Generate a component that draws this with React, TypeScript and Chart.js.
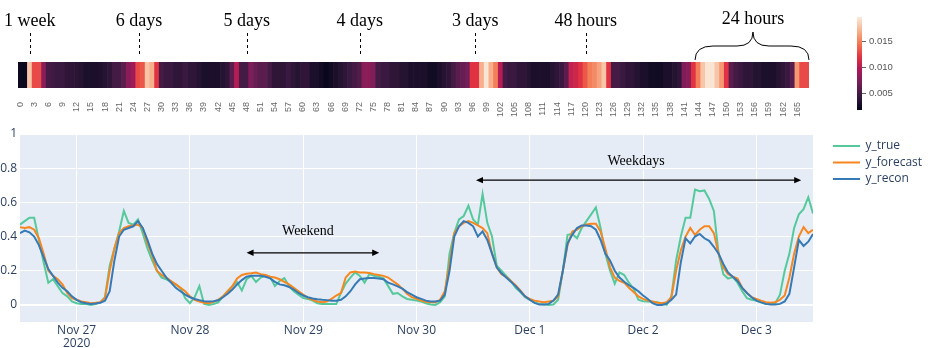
import React, { useEffect, useRef } from 'react';
import { Chart, registerables } from 'chart.js';
Chart.register(...registerables);

// ---------------- Heatmap (lag importance) ----------------
const LAG_LABELS: string[] = Array.from({ length: 168 }, (_, i) => String(i));
const LAG_TICK_STEP = 3;
const HEAT_VALUES: number[] = [
  0.0022, 0.0022, 0.018, 0.013, 0.013, 0.008, 0.005, 0.0048, 0.0045, 0.0045,
  0.004, 0.004, 0.0038, 0.0035, 0.003, 0.003, 0.003, 0.0032, 0.0035, 0.004,
  0.005, 0.005, 0.006, 0.008, 0.009, 0.013, 0.0135, 0.018, 0.017, 0.012,
  0.005, 0.0045, 0.0045, 0.004, 0.004, 0.0045, 0.004, 0.004, 0.0035, 0.003,
  0.003, 0.003, 0.003, 0.0035, 0.004, 0.006, 0.010, 0.005, 0.005, 0.0075,
  0.0065, 0.006, 0.006, 0.005, 0.004, 0.004, 0.004, 0.0045, 0.004, 0.0035,
  0.004, 0.004, 0.003, 0.003, 0.0025, 0.002, 0.0025, 0.003, 0.0035, 0.004,
  0.0045, 0.005, 0.0055, 0.008, 0.008, 0.0075, 0.005, 0.0045, 0.0045, 0.004,
  0.004, 0.0035, 0.0035, 0.003, 0.003, 0.003, 0.003, 0.0025, 0.0025, 0.003,
  0.0035, 0.004, 0.005, 0.006, 0.0065, 0.007, 0.012, 0.012, 0.017, 0.0195,
  0.017, 0.015, 0.010, 0.005, 0.0045, 0.0045, 0.004, 0.004, 0.0035, 0.003,
  0.003, 0.003, 0.003, 0.0035, 0.004, 0.0045, 0.006, 0.0105, 0.011, 0.012,
  0.0135, 0.015, 0.0155, 0.0165, 0.018, 0.012, 0.005, 0.005, 0.0045, 0.004,
  0.004, 0.0035, 0.003, 0.003, 0.0025, 0.0025, 0.0025, 0.003, 0.003, 0.0035,
  0.004, 0.0075, 0.008, 0.012, 0.015, 0.018, 0.0195, 0.0195, 0.018, 0.016,
  0.012, 0.006, 0.005, 0.0045, 0.004, 0.004, 0.0035, 0.0035, 0.003, 0.003,
  0.003, 0.0035, 0.004, 0.0045, 0.006, 0.016, 0.013, 0.013,
];
const COLOR_MIN = 0.00175;
const COLOR_MAX = 0.0198;
const COLORBAR_TICKS = [0.005, 0.01, 0.015];
const ROCKET: [number, string][] = [
  [0, '#03051A'], [0.143, '#35193E'], [0.286, '#701F57'], [0.429, '#AD1759'],
  [0.571, '#E13342'], [0.714, '#F37651'], [0.857, '#F6B48F'], [1, '#FAEBDD'],
];
const LAG_MARKS = [
  { label: '1 week', pos: 2.5 },
  { label: '6 days', pos: 25.7 },
  { label: '5 days', pos: 48.6 },
  { label: '4 days', pos: 72.6 },
  { label: '3 days', pos: 97.1 },
  { label: '48 hours', pos: 120.6 },
];
const BRACE = { label: '24 hours', from: 143.8, to: 168, mid: 156.1 };

// ---------------- Time series ----------------
const HOURS: number[] = Array.from({ length: 169 }, (_, i) => i);
const Y_TRUE: number[] = [
  0.47, 0.49, 0.51, 0.51, 0.38, 0.25, 0.13, 0.15, 0.11, 0.07,
  0.05, 0.02, 0.01, 0.005, 0.005, 0.0, 0.005, 0.015, 0.045, 0.23,
  0.33, 0.43, 0.55, 0.48, 0.47, 0.50, 0.42, 0.33, 0.26, 0.20,
  0.16, 0.15, 0.135, 0.12, 0.10, 0.04, 0.01, 0.045, 0.11, 0.006,
  0.0, 0.005, 0.014, 0.05, 0.08, 0.11, 0.134, 0.085, 0.15, 0.17,
  0.134, 0.16, 0.173, 0.163, 0.11, 0.14, 0.157, 0.11, 0.08, 0.06,
  0.04, 0.035, 0.025, 0.01, 0.006, 0.005, 0.005, 0.005, 0.07, 0.125,
  0.16, 0.19, 0.17, 0.13, 0.18, 0.17, 0.165, 0.155, 0.11, 0.065,
  0.07, 0.05, 0.035, 0.03, 0.025, 0.02, 0.01, 0.003, 0.0, 0.016,
  0.05, 0.3, 0.42, 0.5, 0.52, 0.58, 0.5, 0.47, 0.65, 0.48,
  0.4, 0.23, 0.2, 0.17, 0.14, 0.1, 0.075, 0.045, 0.03, 0.015,
  0.006, 0.002, 0.0, 0.002, 0.03, 0.2, 0.41, 0.415, 0.39, 0.45,
  0.49, 0.53, 0.57, 0.45, 0.3, 0.2, 0.124, 0.19, 0.175, 0.13,
  0.095, 0.03, 0.022, 0.02, 0.018, 0.016, 0.008, 0.0, 0.05, 0.26,
  0.4, 0.51, 0.51, 0.675, 0.665, 0.67, 0.62, 0.55, 0.3, 0.18,
  0.154, 0.163, 0.13, 0.08, 0.04, 0.03, 0.025, 0.015, 0.006, 0.006,
  0.01, 0.06, 0.2, 0.3, 0.45, 0.53, 0.56, 0.63, 0.535,
];
const Y_FORECAST: number[] = [
  0.455, 0.45, 0.455, 0.44, 0.39, 0.3, 0.2, 0.17, 0.15, 0.12,
  0.07, 0.04, 0.03, 0.02, 0.015, 0.01, 0.012, 0.016, 0.04, 0.2,
  0.33, 0.42, 0.45, 0.46, 0.465, 0.47, 0.45, 0.36, 0.29, 0.2,
  0.175, 0.16, 0.14, 0.12, 0.1, 0.08, 0.05, 0.03, 0.02, 0.012,
  0.01, 0.018, 0.03, 0.05, 0.08, 0.11, 0.155, 0.175, 0.182, 0.185,
  0.19, 0.18, 0.175, 0.165, 0.16, 0.15, 0.135, 0.12, 0.1, 0.08,
  0.06, 0.04, 0.03, 0.02, 0.016, 0.02, 0.035, 0.055, 0.07, 0.16,
  0.19, 0.195, 0.19, 0.19, 0.187, 0.18, 0.175, 0.17, 0.16, 0.14,
  0.12, 0.095, 0.065, 0.045, 0.035, 0.025, 0.018, 0.016, 0.016, 0.03,
  0.08, 0.24, 0.42, 0.46, 0.48, 0.49, 0.48, 0.465, 0.45, 0.42,
  0.3, 0.22, 0.18, 0.165, 0.14, 0.115, 0.085, 0.05, 0.035, 0.025,
  0.02, 0.016, 0.02, 0.025, 0.05, 0.2, 0.35, 0.43, 0.44, 0.46,
  0.47, 0.475, 0.475, 0.43, 0.33, 0.22, 0.16, 0.14, 0.13, 0.1,
  0.075, 0.05, 0.035, 0.025, 0.02, 0.013, 0.01, 0.016, 0.045, 0.2,
  0.32, 0.4, 0.45, 0.41, 0.44, 0.46, 0.46, 0.42, 0.3, 0.22,
  0.18, 0.165, 0.154, 0.1, 0.07, 0.045, 0.035, 0.025, 0.016, 0.012,
  0.015, 0.03, 0.055, 0.16, 0.3, 0.4, 0.455, 0.42, 0.44,
];
const Y_RECON: number[] = [
  0.42, 0.435, 0.425, 0.4, 0.35, 0.28, 0.21, 0.17, 0.13, 0.1,
  0.08, 0.05, 0.03, 0.015, 0.01, 0.006, 0.008, 0.012, 0.025, 0.08,
  0.26, 0.4, 0.44, 0.45, 0.46, 0.49, 0.45, 0.38, 0.3, 0.24,
  0.2, 0.16, 0.13, 0.1, 0.08, 0.06, 0.045, 0.035, 0.028, 0.022,
  0.02, 0.022, 0.027, 0.045, 0.065, 0.09, 0.12, 0.145, 0.165, 0.17,
  0.17, 0.17, 0.165, 0.155, 0.135, 0.12, 0.115, 0.105, 0.09, 0.07,
  0.055, 0.045, 0.038, 0.033, 0.03, 0.028, 0.025, 0.025, 0.03, 0.05,
  0.08, 0.12, 0.15, 0.155, 0.157, 0.157, 0.155, 0.15, 0.13, 0.12,
  0.108, 0.095, 0.075, 0.06, 0.045, 0.035, 0.025, 0.02, 0.02, 0.025,
  0.06, 0.2, 0.4, 0.46, 0.49, 0.48, 0.46, 0.4, 0.43, 0.38,
  0.3, 0.22, 0.185, 0.16, 0.135, 0.11, 0.08, 0.05, 0.03, 0.012,
  0.002, 0.002, 0.006, 0.025, 0.06, 0.2, 0.36, 0.41, 0.45, 0.465,
  0.465, 0.46, 0.44, 0.38, 0.3, 0.26, 0.2, 0.16, 0.135, 0.115,
  0.1, 0.08, 0.055, 0.035, 0.01, 0.0, 0.0, 0.008, 0.03, 0.06,
  0.25, 0.39, 0.36, 0.4, 0.415, 0.39, 0.375, 0.34, 0.3, 0.24,
  0.19, 0.165, 0.14, 0.1, 0.07, 0.045, 0.025, 0.015, 0.006, 0.003,
  0.002, 0.006, 0.02, 0.065, 0.22, 0.38, 0.345, 0.37, 0.415,
];
const SERIES_NAMES = ['y_true', 'y_forecast', 'y_recon'];
const SERIES_COLORS = ['#55c99b', '#f7861f', '#3579b5'];
const DAY_TICKS = [12, 36, 60, 84, 108, 132, 156];
const DAY_LABELS: (string | string[])[] = [['Nov 27', '2020'], 'Nov 28', 'Nov 29', 'Nov 30', 'Dec 1', 'Dec 2', 'Dec 3'];
const Y_TICKS = [0, 0.2, 0.4, 0.6, 0.8, 1];
const Y_TICK_LABELS = ['0', '0.2', '0.4', '0.6', '0.8', '1'];
const SPANS = [
  { label: 'Weekend', from: 48.0, to: 76.1, y: 0.305, textX: 61, textY: 0.429 },
  { label: 'Weekdays', from: 96.6, to: 165.5, y: 0.73, textX: 130.5, textY: 0.8375 },
];

const PLOTLY_FONT = '"Open Sans", "Liberation Sans", sans-serif';
const SERIF_FONT = '"Liberation Serif", "DejaVu Serif", serif';
const AXIS_COLOR = '#2a3f5f';

function hexToRgb(h: string) {
  const n = parseInt(h.slice(1), 16);
  return [(n >> 16) & 255, (n >> 8) & 255, n & 255];
}
function rocketAt(t: number) {
  t = Math.max(0, Math.min(1, t));
  for (let i = 1; i < ROCKET.length; i++) {
    const [t1, c1] = ROCKET[i];
    const [t0, c0] = ROCKET[i - 1];
    if (t <= t1) {
      const f = (t - t0) / (t1 - t0);
      const a = hexToRgb(c0), b = hexToRgb(c1);
      const r = a.map((v, k) => Math.round(v + (b[k] - v) * f));
      return `rgb(${r[0]},${r[1]},${r[2]})`;
    }
  }
  return ROCKET[ROCKET.length - 1][1];
}
const colorFor = (v: number) => rocketAt((v - COLOR_MIN) / (COLOR_MAX - COLOR_MIN));

const heatAnnotations = {
  id: 'heatAnnotations',
  afterDraw(chart: any) {
    const { ctx, chartArea } = chart;
    const cell = (chartArea.right - chartArea.left) / LAG_LABELS.length;
    const px = (pos: number) => chartArea.left + pos * cell;
    ctx.save();
    ctx.fillStyle = '#000';
    ctx.strokeStyle = '#000';
    ctx.font = `18px ${SERIF_FONT}`;
    ctx.textAlign = 'center';
    ctx.textBaseline = 'alphabetic';
    LAG_MARKS.forEach((m) => {
      const x = px(m.pos);
      ctx.fillText(m.label, x, 26);
      ctx.beginPath();
      ctx.setLineDash([3, 3]);
      ctx.lineWidth = 1;
      ctx.moveTo(Math.round(x) + 0.5, 33);
      ctx.lineTo(Math.round(x) + 0.5, 57);
      ctx.stroke();
    });
    ctx.setLineDash([]);
    const xl = px(BRACE.from), xr = px(BRACE.to), xm = px(BRACE.mid);
    const yb = 60, ym = 46, yt = 32;
    ctx.lineWidth = 1;
    ctx.beginPath();
    ctx.moveTo(xl, yb);
    ctx.quadraticCurveTo(xl, ym, xl + 18, ym);
    ctx.lineTo(xm - 16, ym);
    ctx.quadraticCurveTo(xm, ym, xm, yt);
    ctx.quadraticCurveTo(xm, ym, xm + 16, ym);
    ctx.lineTo(xr - 18, ym);
    ctx.quadraticCurveTo(xr, ym, xr, yb);
    ctx.stroke();
    ctx.fillText(BRACE.label, xm, 23.5);
    ctx.restore();
  },
};

const plotBackground = {
  id: 'plotBackground',
  beforeDraw(chart: any) {
    const { ctx, chartArea } = chart;
    ctx.save();
    ctx.fillStyle = '#E5ECF6';
    ctx.fillRect(chartArea.left, chartArea.top, chartArea.right - chartArea.left, chartArea.bottom - chartArea.top);
    ctx.restore();
  },
};

const spanArrows = {
  id: 'spanArrows',
  afterDatasetsDraw(chart: any) {
    const { ctx, scales } = chart;
    const { x, y } = scales;
    ctx.save();
    ctx.strokeStyle = '#000';
    ctx.fillStyle = '#000';
    ctx.lineWidth = 1.2;
    SPANS.forEach((s) => {
      const x1 = x.getPixelForValue(s.from);
      const x2 = x.getPixelForValue(s.to);
      const yy = y.getPixelForValue(s.y);
      const head = 7, hw = 3.2;
      ctx.beginPath();
      ctx.moveTo(x1 + head - 1, yy);
      ctx.lineTo(x2 - head + 1, yy);
      ctx.stroke();
      ctx.beginPath();
      ctx.moveTo(x1, yy);
      ctx.lineTo(x1 + head, yy - hw);
      ctx.lineTo(x1 + head, yy + hw);
      ctx.closePath();
      ctx.fill();
      ctx.beginPath();
      ctx.moveTo(x2, yy);
      ctx.lineTo(x2 - head, yy - hw);
      ctx.lineTo(x2 - head, yy + hw);
      ctx.closePath();
      ctx.fill();
      ctx.font = `14px ${SERIF_FONT}`;
      ctx.textAlign = 'center';
      ctx.textBaseline = 'middle';
      ctx.fillText(s.label, x.getPixelForValue(s.textX), y.getPixelForValue(s.textY));
    });
    ctx.restore();
  },
};

const sideLegend = {
  id: 'sideLegend',
  afterDraw(chart: any) {
    const { ctx, chartArea } = chart;
    const x0 = chartArea.right + 20;
    ctx.save();
    ctx.font = `12px ${PLOTLY_FONT}`;
    ctx.textAlign = 'left';
    ctx.textBaseline = 'middle';
    chart.data.datasets.forEach((ds: any, i: number) => {
      const yy = 26 + i * 16.5;
      ctx.strokeStyle = ds.borderColor;
      ctx.lineWidth = 2;
      ctx.beginPath();
      ctx.moveTo(x0, yy);
      ctx.lineTo(x0 + 27, yy);
      ctx.stroke();
      ctx.fillStyle = AXIS_COLOR;
      ctx.fillText(ds.label, x0 + 32.5, yy);
    });
    ctx.restore();
  },
};

export default function App() {
  const heatRef = useRef<HTMLCanvasElement>(null);
  const barRef = useRef<HTMLCanvasElement>(null);
  const lineRef = useRef<HTMLCanvasElement>(null);

  useEffect(() => {
    const heat = new Chart(heatRef.current as HTMLCanvasElement, {
      type: 'bar',
      data: {
        labels: LAG_LABELS,
        datasets: [{
          data: HEAT_VALUES.map(() => 1),
          backgroundColor: HEAT_VALUES.map(colorFor),
          borderWidth: 0,
          barPercentage: 1,
          categoryPercentage: 1,
        }],
      },
      options: {
        responsive: false,
        animation: false,
        layout: { padding: { left: 18, right: 41, top: 62, bottom: 2 } },
        plugins: { legend: { display: false }, tooltip: { enabled: false } },
        scales: {
          x: {
            type: 'category',
            grid: { display: false, drawTicks: false },
            border: { display: false },
            ticks: {
              autoSkip: false,
              minRotation: 90,
              maxRotation: 90,
              padding: 14,
              color: '#666',
              font: { family: '"Liberation Sans", sans-serif', size: 9 },
              callback: (_v: any, i: number) => (i % LAG_TICK_STEP === 0 ? LAG_LABELS[i] : ''),
            },
            afterFit: (s: any) => { s.height = 30; },
          },
          y: { display: false, min: 0, max: 1 },
        },
      },
      plugins: [heatAnnotations],
    } as any);

    const bar = new Chart(barRef.current as HTMLCanvasElement, {
      type: 'bar',
      data: {
        labels: [''],
        datasets: [{
          data: [[COLOR_MIN, COLOR_MAX]],
          backgroundColor: (c: any) => {
            const { chart } = c;
            const area = chart.chartArea;
            if (!area) return '#000';
            const g = chart.ctx.createLinearGradient(0, area.bottom, 0, area.top);
            ROCKET.forEach(([t, col]) => g.addColorStop(t, col));
            return g;
          },
          borderWidth: 0,
          barPercentage: 1,
          categoryPercentage: 1,
        }],
      },
      options: {
        responsive: false,
        animation: false,
        layout: { padding: { left: 17, right: 0, top: 17, bottom: 10 } },
        plugins: { legend: { display: false }, tooltip: { enabled: false } },
        scales: {
          x: { display: false },
          y: {
            position: 'right',
            min: COLOR_MIN,
            max: COLOR_MAX,
            grid: { drawOnChartArea: false, drawTicks: true, tickLength: 4, color: '#666' },
            border: { display: false },
            ticks: {
              padding: 3,
              color: '#555',
              font: { family: '"Liberation Sans", sans-serif', size: 9.5 },
              callback: (v: any) => Number(v).toFixed(3),
            },
            afterBuildTicks: (s: any) => { s.ticks = COLORBAR_TICKS.map((v) => ({ value: v })); },
            afterFit: (s: any) => { s.width = 66; },
          },
        },
      },
    } as any);

    const seriesData = [Y_TRUE, Y_FORECAST, Y_RECON];
    const line = new Chart(lineRef.current as HTMLCanvasElement, {
      type: 'line',
      data: {
        datasets: seriesData.map((arr, i) => ({
          label: SERIES_NAMES[i],
          data: arr.map((v, k) => ({ x: HOURS[k], y: v })),
          borderColor: SERIES_COLORS[i],
          backgroundColor: SERIES_COLORS[i],
          borderWidth: 2,
          pointRadius: 0,
          tension: 0,
          fill: false,
          order: 3 - i,
        })),
      },
      options: {
        responsive: false,
        animation: false,
        layout: { padding: { left: 0, right: 115, top: 14, bottom: 0 } },
        plugins: { legend: { display: false }, tooltip: { enabled: false } },
        scales: {
          x: {
            type: 'linear',
            min: HOURS[0],
            max: HOURS[HOURS.length - 1],
            grid: { color: '#ffffff', lineWidth: 1, drawTicks: false },
            border: { display: false },
            ticks: {
              padding: 2,
              color: AXIS_COLOR,
              font: { family: PLOTLY_FONT, size: 12, lineHeight: 1.1 },
              maxRotation: 0,
              autoSkip: false,
              callback: (v: any) => {
                const i = DAY_TICKS.indexOf(Number(v));
                return i >= 0 ? DAY_LABELS[i] : '';
              },
            },
            afterBuildTicks: (s: any) => { s.ticks = DAY_TICKS.map((v) => ({ value: v })); },
            afterFit: (s: any) => { s.height = 26; },
          },
          y: {
            type: 'linear',
            min: -0.1,
            max: 1,
            grid: {
              color: '#ffffff',
              lineWidth: (c: any) => (c.tick && c.tick.value === 0 ? 2 : 1),
              drawTicks: false,
            },
            border: { display: false },
            ticks: {
              padding: 3,
              color: AXIS_COLOR,
              font: { family: PLOTLY_FONT, size: 12 },
              callback: (v: any) => {
                const i = Y_TICKS.indexOf(Number(v));
                return i >= 0 ? Y_TICK_LABELS[i] : '';
              },
            },
            afterBuildTicks: (s: any) => { s.ticks = Y_TICKS.map((v) => ({ value: v })); },
            afterFit: (s: any) => { s.width = 20; },
          },
        },
      },
      plugins: [plotBackground, spanArrows, sideLegend],
    } as any);

    return () => {
      heat.destroy();
      bar.destroy();
      line.destroy();
    };
  }, []);

  return (
    <div style={{ position: 'fixed', left: 0, top: 0, width: 928, height: 348, background: '#fff', overflow: 'hidden' }}>
      <canvas ref={heatRef} width={850} height={120} style={{ position: 'absolute', left: 0, top: 0, width: 850, height: 120 }} />
      <canvas ref={barRef} width={88} height={120} style={{ position: 'absolute', left: 840, top: 0, width: 88, height: 120 }} />
      <canvas ref={lineRef} width={928} height={228} style={{ position: 'absolute', left: 0, top: 120, width: 928, height: 228 }} />
    </div>
  );
}
